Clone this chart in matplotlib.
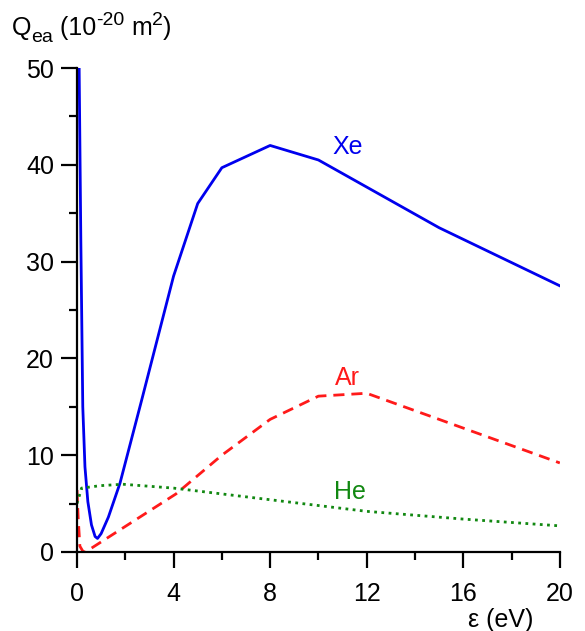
import numpy as np
import matplotlib.pyplot as plt
from matplotlib.ticker import MultipleLocator
from matplotlib.transforms import offset_copy

plt.rcParams['font.family'] = ['Liberation Sans', 'DejaVu Sans']

# Xe cross section
xe_e = [0.07, 0.16, 0.24, 0.33, 0.45, 0.6, 0.75, 0.85, 1.0, 1.3, 1.78, 2.68, 4, 5, 6, 8, 10, 15, 20]
xe_q = [55, 32, 15.0, 8.8, 5.2, 2.8, 1.6, 1.4, 1.9, 3.6, 7.1, 15.7, 28.5, 36, 39.7, 42, 40.5, 33.5, 27.5]

# Ar cross section
ar_e = [0.0, 0.05, 0.12, 0.25, 0.35, 4.1, 6, 8, 10, 12, 20]
ar_q = [6.4, 3.5, 0.6, 0.05, 0.0, 6.0, 10.0, 13.7, 16.1, 16.4, 9.2]

# He cross section
he_e = [0.0, 0.19, 0.95, 1.9, 4, 8, 12, 16, 20]
he_q = [5.0, 6.6, 6.85, 7.0, 6.6, 5.4, 4.2, 3.4, 2.7]

fig = plt.figure(figsize=(5.85, 6.31), dpi=100)
ax = fig.add_axes([0.1316, 0.1252, 0.8254, 0.7670])

ax.plot(xe_e, xe_q, color='#0000ee', lw=2.0, solid_joinstyle='round')
ax.plot(ar_e, ar_q, color='#ff1a1a', lw=2.0, ls=(0, (4, 2.5)))
ax.plot(he_e, he_q, color='#118811', lw=2.0, ls=(0, (1, 1.6)))

ax.text(11.2, 41.8, 'Xe', color='#0000ee', fontsize=18, ha='center', va='center')
ax.text(11.2, 18.0, 'Ar', color='#ff1a1a', fontsize=18, ha='center', va='center')
ax.text(11.3, 6.2, 'He', color='#118811', fontsize=18, ha='center', va='center')

ax.set_xlim(0, 20)
ax.set_ylim(0, 50)
ax.xaxis.set_major_locator(MultipleLocator(4))
ax.xaxis.set_minor_locator(MultipleLocator(2))
ax.yaxis.set_major_locator(MultipleLocator(10))
ax.yaxis.set_minor_locator(MultipleLocator(5))

for s in ['top', 'right']:
    ax.spines[s].set_visible(False)
for s in ['left', 'bottom']:
    ax.spines[s].set_linewidth(1.6)

ax.tick_params(which='major', direction='out', length=11.5, width=1.6, labelsize=18)
ax.tick_params(which='minor', direction='out', length=5.8, width=1.6)
ax.tick_params(axis='x', which='major', pad=10)
ax.tick_params(axis='y', which='major', pad=5)

# y-axis title built from pieces so the superscript keeps a plain hyphen
pieces = [('Q', 18, 0), ('ea', 14, -5), (' (10', 18, 0), ('-20', 14, 7),
          (' m', 18, 0), ('2', 14, 7), (')', 18, 0)]
renderer = fig.canvas.get_renderer()
x0, y0 = 0.02, 0.945
dx = 0.0
for s, size, dy in pieces:
    tr = offset_copy(fig.transFigure, fig=fig, x=dx, y=dy, units='points')
    t = fig.text(x0, y0, s, fontsize=size, ha='left', va='baseline', transform=tr)
    dx += t.get_window_extent(renderer).width * 72 / fig.dpi

fig.text(0.856, 0.0174, 'ε (eV)', fontsize=18, ha='center', va='center')

fig.savefig('out.png', dpi=100)
